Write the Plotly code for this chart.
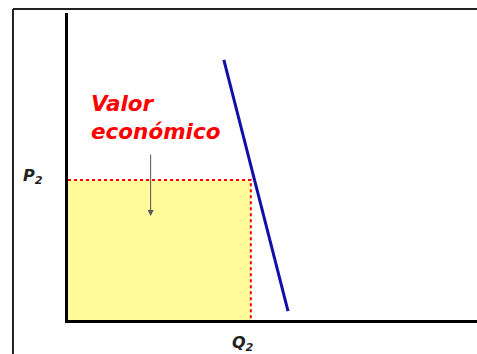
import plotly.graph_objects as go

# conceptual values (axis units 0..10)
q2 = 4.47
p2 = 4.56
demand_q = [3.81, 5.38]
demand_p = [8.47, 0.29]
label_top = "Valor"
label_bottom = "económico"
arrow_q = 2.02
arrow_top = 5.44
arrow_bottom = 3.39

fig = go.Figure()

# yellow area under P2 up to Q2
fig.add_trace(go.Scatter(
    x=[0, q2, q2, 0, 0], y=[0, 0, p2, p2, 0],
    fill="toself", fillcolor="#FFFB9A", mode="lines",
    line=dict(width=0), hoverinfo="skip", showlegend=False,
))

# red dotted guides
fig.add_trace(go.Scatter(
    x=[0, q2, q2], y=[p2, p2, 0], mode="lines",
    line=dict(color="#FF0000", width=2, dash="dot"),
    hoverinfo="skip", showlegend=False,
))

# demand curve
fig.add_trace(go.Scatter(
    x=demand_q, y=demand_p, mode="lines",
    line=dict(color="#1010A8", width=3),
    showlegend=False,
))

red_font = dict(family="DejaVu Sans", size=21.5, color="#FF0000",
                weight="bold", style="italic")
fig.add_annotation(x=0.52, y=7.05, xref="x", yref="y", text=label_top,
                   showarrow=False, xanchor="left", yanchor="middle",
                   font=red_font)
fig.add_annotation(x=0.52, y=6.13, xref="x", yref="y", text=label_bottom,
                   showarrow=False, xanchor="left", yanchor="middle",
                   font=red_font)

fig.add_annotation(
    x=arrow_q, y=arrow_bottom, ax=arrow_q, ay=arrow_top,
    xref="x", yref="y", axref="x", ayref="y", text="",
    showarrow=True, arrowhead=2, arrowsize=1.2, arrowwidth=1,
    arrowcolor="#555555",
)

axis_font = dict(family="DejaVu Sans", size=16, color="#222222")
fig.add_annotation(
    x=-0.115, y=p2 + 0.1, xref="paper", yref="y",
    text="<b><i>P<sub>2</sub></i></b>", showarrow=False, font=axis_font,
)
fig.add_annotation(
    x=q2 - 0.2, y=-0.117, xref="x", yref="paper",
    text="<b><i>Q<sub>2</sub></i></b>", showarrow=False, font=axis_font,
)

# outer frame: only its top and left edges fall inside the picture
frame = dict(color="#222222", width=2)
fig.add_shape(type="line", xref="paper", yref="paper",
              x0=-0.1345, x1=1.3, y0=1.013, y1=1.013, line=frame)
fig.add_shape(type="line", xref="paper", yref="paper",
              x0=-0.1345, x1=-0.1345, y0=-0.4, y1=1.013, line=frame)

fig.update_xaxes(range=[0, 10], showgrid=False, zeroline=False,
                 showticklabels=False, ticks="", showline=True,
                 linecolor="black", linewidth=3)
fig.update_yaxes(range=[0, 10], showgrid=False, zeroline=False,
                 showticklabels=False, ticks="", showline=True,
                 linecolor="black", linewidth=3)

fig.update_layout(
    width=477, height=354,
    margin=dict(l=68, r=0, t=13, b=34),
    plot_bgcolor="white", paper_bgcolor="white",
)

# drop the default 8px body margin so the figure fills the window
fig.write_html("out.html", config={"displayModeBar": False},
               post_script="document.body.style.margin='0';")
